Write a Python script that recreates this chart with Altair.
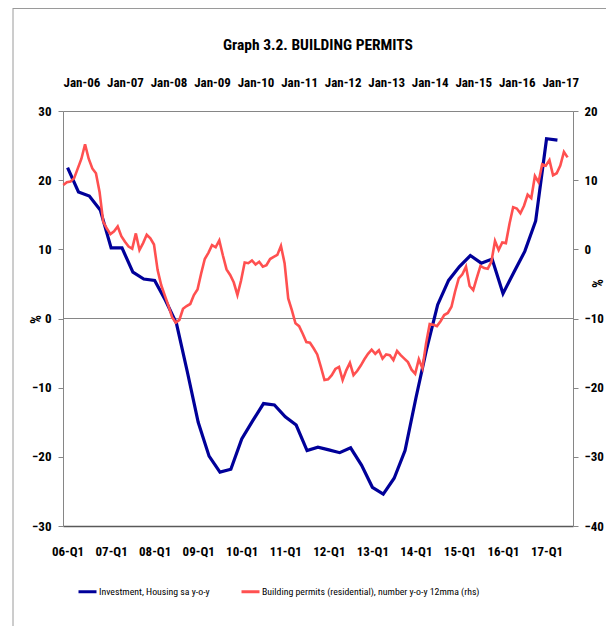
import json
import altair as alt
import pandas as pd

# ---------------- data ----------------
quarters = [f"{y:02d}-Q{q}" for y in range(6, 18) for q in range(1, 5)][:46]  # 06-Q1 .. 17-Q2

investment = [21.8, 18.3, 17.7, 15.7, 10.2, 10.2, 6.7, 5.7, 5.5, 2.6,
              -0.7, -7.7, -15.0, -19.9, -22.2, -21.8, -17.4, -14.8, -12.3, -12.5,
              -14.2, -15.4, -19.1, -18.6, -19.0, -19.4, -18.7, -21.2, -24.4, -25.4,
              -23.1, -19.1, -11.5, -4.3, 2.0, 5.5, 7.5, 9.1, 8.0, 8.6,
              3.6, 6.7, 9.7, 14.1, 26.0, 25.8]

months = pd.date_range("2005-08-01", periods=140, freq="MS").strftime("%b-%y").tolist()

permits = [9.3, 9.7, 9.8, 10.3, 11.7, 13.1, 15.2, 13.1, 11.7, 11.0,
           8.3, 4.0, 3.0, 2.2, 2.6, 3.3, 1.9, 1.1, 0.4, 0.1,
           2.3, -0.1, 0.9, 2.1, 1.6, 0.7, -3.0, -5.2, -6.7, -8.2,
           -9.8, -10.6, -10.2, -8.6, -8.2, -7.9, -6.6, -5.8, -3.5, -1.4,
           -0.5, 0.6, 0.3, 1.3, -0.9, -2.9, -3.7, -4.8, -6.6, -4.5,
           -1.9, -2.0, -1.6, -2.2, -1.8, -2.5, -2.3, -1.4, -1.1, -0.8,
           0.5, -2.0, -7.1, -8.8, -10.7, -11.1, -12.2, -13.4, -13.5, -14.3,
           -15.2, -17.0, -18.9, -18.8, -18.2, -17.3, -17.0, -18.9, -17.5, -16.4,
           -18.2, -17.6, -16.8, -15.9, -15.1, -14.5, -15.1, -14.6, -15.8, -15.2,
           -15.3, -16.0, -14.7, -15.3, -15.8, -16.3, -17.4, -18.0, -15.9, -17.2,
           -13.6, -10.8, -10.9, -11.1, -10.4, -9.5, -9.2, -8.3, -6.1, -4.2,
           -3.6, -2.5, -5.3, -5.9, -4.1, -2.4, -2.7, -2.8, -1.8, 1.2,
           -0.1, 1.0, 0.9, 3.7, 6.1, 5.9, 5.2, 6.3, 7.9, 7.4,
           10.6, 9.7, 12.3, 12.1, 12.9, 10.7, 11.0, 12.1, 14.1, 13.3]

bottom_labels = quarters[0::4]                                  # 06-Q1 .. 17-Q1
top_labels = [m for m in months if m.startswith("Jan")]          # Jan-06 .. Jan-17
left_ticks = [-30, -20, -10, 0, 10, 20, 30]
right_ticks = [-40, -30, -20, -10, 0, 10, 20]

title_text = "Graph 3.2. BUILDING PERMITS"
s1 = "Investment, Housing sa y-o-y"
s2 = "Building permits (residential), number y-o-y 12mma (rhs)"

blue_df = pd.DataFrame({"qi": range(len(investment)), "quarter": quarters,
                        "value": investment, "series": s1})
red_df = pd.DataFrame({"mi": range(len(permits)), "month": months,
                       "value": permits, "series": s2})
zero_df = pd.DataFrame({"value": [0]})
jan_idx = [i for i, m in enumerate(months) if m.startswith("Jan")]

# ---------------- style ----------------
FONT = "Liberation Sans Narrow, Roboto Condensed, Noto Sans Condensed, Roboto, sans-serif"
GRAY = "#868686"
BLUE = "#000099"
RED = "#FF5050"

color = alt.Color("series:N",
                  scale=alt.Scale(domain=[s1, s2], range=[BLUE, RED]),
                  legend=alt.Legend(orient="none", legendX=14, legendY=470,
                                    direction="horizontal", title=None,
                                    symbolType="stroke", symbolSize=324,
                                    symbolStrokeWidth=3, labelFont=FONT,
                                    labelFontSize=9.8, labelColor="black",
                                    columnPadding=25, labelLimit=500,
                                    padding=0, labelOffset=1))

label_style = dict(labelFont=FONT, labelFontSize=13, labelFontWeight="bold",
                   labelColor="black", grid=False, labelOverlap=False)

x_blue = alt.X("qi:Q", scale=alt.Scale(domain=[-0.42, 46.43], nice=False, zero=False),
               axis=alt.Axis(orient="bottom", values=list(range(0, 46, 4)),
                             labelExpr=f"{json.dumps(bottom_labels)}[round(datum.value / 4)]",
                             ticks=False, domainColor="#595959", domainWidth=1.5,
                             labelPadding=19, labelFlush=False, title=None, **label_style))

y_left = alt.Y("value:Q", scale=alt.Scale(domain=[-30, 30], nice=False),
               axis=alt.Axis(orient="left", values=left_ticks, tickSize=5,
                             tickColor=GRAY, domainColor=GRAY, labelPadding=7,
                             title="%", titleAngle=-90, titleX=-27, titleY=208,
                             titleBaseline="middle", titleFont=FONT, titleFontSize=14,
                             titleFontWeight="bold", titleColor="black", **label_style))

zero = alt.Chart(zero_df).mark_rule(color=GRAY, strokeWidth=1.2).encode(y=y_left)

blue = alt.Chart(blue_df).mark_line(strokeWidth=3.2).encode(
    x=x_blue, y=y_left, color=color)

x_red = alt.X("mi:Q", scale=alt.Scale(domain=[-0.08, 140.5], nice=False, zero=False),
              axis=alt.Axis(orient="top", values=jan_idx,
                            labelExpr=f"{json.dumps(top_labels)}[round((datum.value - {jan_idx[0]}) / 12)]",
                            ticks=False, domainColor=GRAY, labelPadding=22,
                            labelFlush=False, title=None, **label_style))

y_right = alt.Y("value:Q", scale=alt.Scale(domain=[-40, 20], nice=False),
                axis=alt.Axis(orient="right", values=right_ticks, tickSize=5,
                              tickColor=GRAY, domainColor=GRAY, labelPadding=6,
                              title="%", titleAngle=90, titleX=22, titleY=172,
                              titleBaseline="middle", titleFont=FONT, titleFontSize=14,
                              titleFontWeight="bold", titleColor="black", **label_style))

red = alt.Chart(red_df).mark_line(strokeWidth=2.6).encode(
    x=x_red, y=y_right, color=color)

# chart title and outer chart-area frame (decoration)
title = alt.Chart(zero_df).mark_text(text=title_text, font=FONT, fontSize=15.5,
                                     fontWeight="bold", color="black",
                                     align="center", baseline="middle").encode(
    x=alt.value(255), y=alt.value(-66))
frame_left = alt.Chart(zero_df).mark_rule(color="#9a9a9a", strokeWidth=1).encode(
    x=alt.value(-50), y=alt.value(-103), y2=alt.value(520))
frame_top = alt.Chart(zero_df).mark_rule(color="#9a9a9a", strokeWidth=1).encode(
    x=alt.value(-50), x2=alt.value(545), y=alt.value(-102.5))

chart = alt.layer(
    alt.layer(zero, blue),
    red,
    title,
    frame_left,
    frame_top,
).resolve_scale(x="independent", y="independent").properties(
    width=510, height=415,
    autosize="none",
    padding={"left": 55, "top": 103, "right": 33, "bottom": 100},
).configure_view(stroke=GRAY, strokeWidth=1).configure(background="white")

chart.save("out.html", embed_options={"renderer": "svg", "actions": False})
